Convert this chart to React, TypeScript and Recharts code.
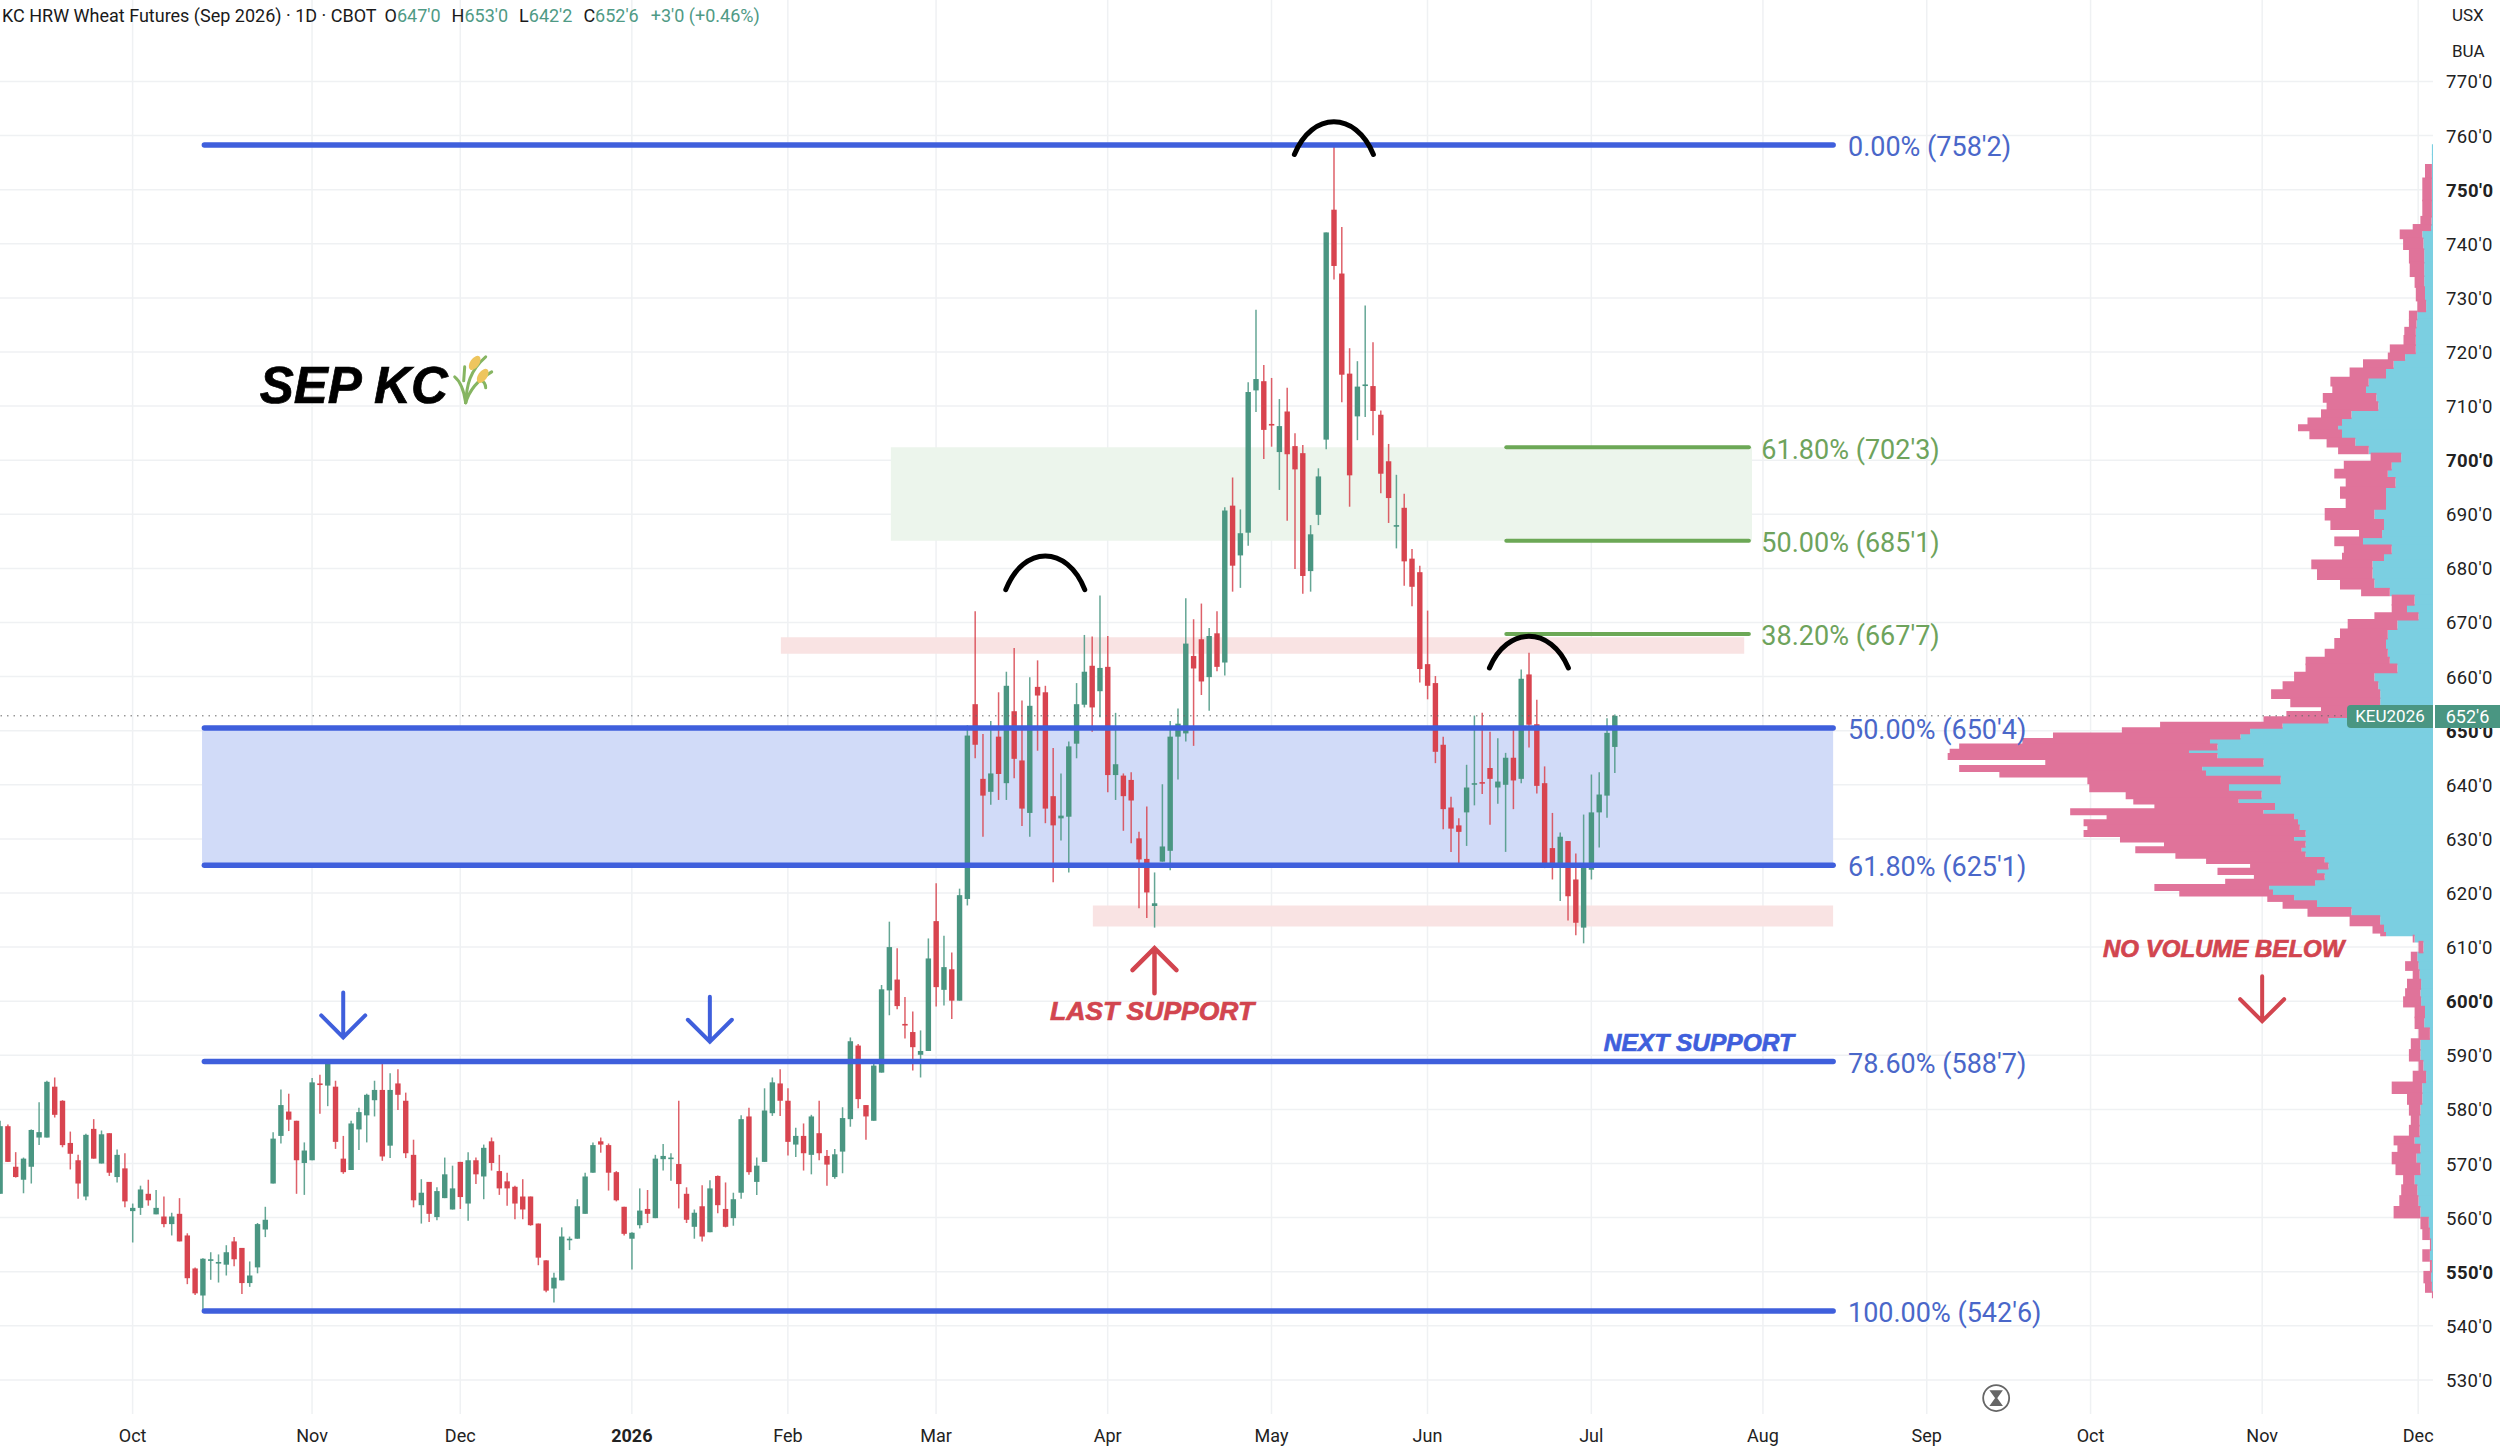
import React from "react";
import {
  ComposedChart, Bar, XAxis, YAxis, CartesianGrid,
  ReferenceLine, ReferenceArea, ReferenceDot,
} from "recharts";

const opens = [564.4,576.9,569.4,567,569.4,574.8,574.8,584.2,581.6,573.8,
570.6,563.9,576.4,570,575.6,567.5,569.1,561.2,561.8,564.4,
560.6,560.2,558.8,560.7,556.7,550.6,545.6,552,551.5,551.3,
555.6,554.4,547.9,550.8,557.8,566.3,575.1,579.6,577.9,570.1,
570.6,584.8,584.4,584.2,570.9,568.8,576.3,578.9,581.7,583.6,
573.3,584.8,581.6,571.6,562.3,566.6,560.1,563.6,561.5,570.3,
562.6,570.6,567.6,574.1,568.6,566.7,565.7,563.9,563.9,558.9,
552.1,546.9,548.4,555.9,556.1,560.7,568.3,574.1,573.4,568.4,
562,556.1,558.6,561.6,559.9,570.8,570.9,569.9,564.4,558.3,
562.1,557.3,567.7,561.6,559.9,564.6,578.7,566.6,570.3,579.3,
584.8,581.6,573.5,575.1,571.6,575.6,571.4,567.5,572.2,578.2,
591.8,580.8,577.9,586.8,602,604,595.8,594.3,590.1,590.8,
614.8,602.1,605.9,600.1,618.9,654.9,641.1,638.7,648.9,640.3,
653.6,644.5,634.8,658.1,657.1,637.9,633.8,634.1,647.6,654.8,
662,657.3,661.8,641.8,641.7,640.9,630.1,626.3,617.6,625.8,
627.8,648.9,649.5,663.8,666.9,659.9,668,662.6,691.6,682.4,
686.6,712.9,714.6,706.7,701.5,709,702.6,701.3,679.5,689.9,
703.8,746.3,734.5,716,708.1,713.8,713.7,708.4,699.8,687.8,
691.2,681.8,679.3,662.3,658.8,647.4,635.8,632.5,634.9,640.1,
640.5,643.1,639.5,640,645,641.1,660.4,651.2,640.3,628.3,
624.9,629.6,622.5,613.6,624.3,634.9,638,647];

const highs = [577.9,577.2,572.1,571.1,576.3,581.3,585.3,585.9,581.7,575.9,
571.6,575.5,578.2,576.1,575.6,572.6,571.9,562.6,565.9,567,
565.1,563.9,560.9,563.6,557.1,550.8,552.5,553.6,553.2,554.9,
556.4,554.4,551.9,559,562,575.8,583.7,582.9,577.9,573.9,
585.8,586.4,588.8,585.3,575.1,577.9,580.3,582.9,585.3,588.8,
586.7,587.4,583.1,574.4,567.1,566.6,565.6,571.1,569.6,570.3,
572.1,571.1,573.5,574.8,571.6,568.3,565.9,567.1,563.9,558.9,
552.1,549.8,558.2,556.5,563.4,568.3,573.9,574.8,573.7,568.6,
562,557.3,565.4,565.1,571.6,573.6,571.9,581.6,565.6,561.5,
566,566.9,567.8,566.5,564.6,578.9,580.3,571.1,583.9,585.9,
587.4,583.9,576.6,577.4,579,581.6,572.5,572.7,580.4,593.3,
592.1,580.8,588.8,603,614.7,609.8,600.8,598.1,594.6,611.6,
621.8,612.1,609,620.8,651,672.1,649.4,651.8,657.1,660.9,
665.3,655.6,659.9,663,658.3,646.8,642.1,648,658.8,667.7,
667.4,675,667.5,653.3,642.1,642.3,631.3,636,623.8,640.1,
651.8,654.1,674.5,670.6,673.5,669,672.1,691.3,696.8,690.9,
714.4,727.8,717.6,715.2,711.3,713.4,705,702.8,688,698.5,
742.1,758.2,743.1,720.7,718.3,728.6,721.8,709.2,703,697.3,
693.8,683.6,680.5,672.2,660.1,648.9,637.8,633.8,643.7,652.8,
653.3,649.8,648.6,645.9,650.3,661.3,664.4,655.7,643.4,634.8,
631.2,629.6,627.3,634.5,641.9,642.3,652.3,653];

const lows = [564.4,570.3,567.4,564.5,566.3,573.4,574.8,578.5,573,568.9,
563.5,563.2,570.9,570,567.7,566.5,561.9,555.4,560.5,562.2,
560.6,558.2,556.7,555.6,547.7,545.7,542.8,548.5,548,549.3,
551,545.9,547.2,549.7,556.4,566.3,573.7,576,564.4,564.2,
570.6,579.2,580.6,572.7,568.1,568.8,572.5,573.9,578.7,570.5,
571,579.9,571,561.9,558.9,559.2,559.5,563.6,561.5,561.6,
559.4,566.2,563.4,568.7,564.2,562.2,559.7,559.7,558.5,551.2,
546.2,544.3,548.4,554,556.1,560.7,568.3,572,565,563,
556.7,550.4,558,559,559.9,568.7,566.8,561.7,559,556.1,
555.6,557.3,560.8,558.2,558.5,563.5,567.9,564.2,570.3,578.8,
578.8,571.5,571.2,568.7,568,570.6,565.9,567.2,568.2,576.8,
580.2,574.4,577.9,586.8,597.4,598.5,593.1,587.2,585.9,590.8,
599,599.2,596.7,600.1,617.7,644.9,630.4,636.3,637.2,637.2,
641.2,632.4,630.4,646.3,632.9,622,629.7,623.8,644.9,654.3,
649.8,652.5,638.6,637.2,631.5,629.2,617.2,615.4,613.6,625.8,
624.2,641,648,647.2,656.6,653.7,661,660.2,675.7,676.4,
684.2,708.9,700.2,702.5,694.5,688.8,679.9,675.3,675.7,688,
702,733.4,710.7,691.4,703.7,708,704.6,693.9,688.4,683.7,
676.8,673,658.9,655.8,644,631.8,627.6,625.5,628.7,636.2,
638.3,632.6,636.5,627.6,635.5,640.3,646.9,638.4,624.6,622.5,
618.5,614.9,612.2,610.7,622.5,628.4,633.9,642.2];

const closes = [576.9,570.3,567.5,570.9,576.2,575.8,585.1,579,573.4,571.8,
566.3,575.3,570.9,575.4,568.3,571.6,563,561.8,565.2,563.2,
561.8,558.8,560.2,555.6,548.8,546,552.4,552.3,551.8,553.6,
552.3,547.9,549.3,558.8,559.6,574.6,580.8,578.1,570.6,572.4,
585,584.6,588.5,574,568.4,577.4,579.5,582.7,583.6,571.3,
583.6,582.7,571.9,563.2,564.6,560.7,564.9,568,565.4,563.8,
570.6,568,572.9,570.1,565.4,565.4,562.6,561.5,558.6,552.6,
546.5,548.9,556.5,556.1,562.1,567.6,573.4,573.5,568.3,563.2,
557,557.2,561.3,560.7,570.9,571.4,571.1,566.2,559.6,560.9,
556.5,565.4,562.3,558.3,563.4,578.2,568.4,569.6,579.8,585,
581.6,574,575.1,571.9,578.7,571.9,569.8,571.7,578.4,592.6,
581.9,578.7,588.1,602.2,610,599.1,595.6,591.5,590.8,607.9,
602.6,606.3,600.1,619.6,649.1,647.4,638,642.1,642,658.3,
644.8,635.6,654.6,656.5,635.6,632.5,634.3,647.1,654.9,660.9,
654.3,661.6,641.8,643.8,637.9,637.1,626.2,620.1,618.1,628.6,
648.9,651.3,666.1,661.5,659.1,667.5,661.8,690.7,680.5,686.5,
712.6,715,705.6,706.5,706.3,701.1,698.3,678.6,686.3,697,
742.1,735.9,715.8,697.2,713.6,714,709.1,697.5,693,688,
681.3,676.6,661.4,658.3,646.1,635.5,631.9,631.3,639.5,640.3,
640.3,641.1,640.6,645,640.8,659.6,651.1,639.8,625.2,625.3,
630.4,619.4,614.5,625.2,634.9,638.2,649.6,652.75];

const monthTicks = [17, 40, 59, 81, 101, 120, 142, 163, 183, 204, 226, 247, 268, 290, 310];
const monthLabels = ["Oct", "Nov", "Dec", "2026", "Feb", "Mar", "Apr", "May", "Jun", "Jul", "Aug", "Sep", "Oct", "Nov", "Dec"];
const priceTicks = [530,540,550,560,570,580,590,600,610,620,630,640,650,660,670,680,690,700,710,720,730,740,750,760,770];
const boldPrices = [550, 600, 650, 700, 750];

const profilePrices = [758,755,754.2,750,746,744,743,742,740,738,735,733,731,728,727,725,724,722,720.5,719,718,716,714.5,713,711.5,710,708.5,707,706,705,703,702,700.5,699,697.5,696,694,692,690,688,686.5,685,683.5,682,681,679,677,675.5,674.5,672,671.5,669.5,668,666,664,663,661.5,660,658,657,655,654,653,652,651,650,649,648,647,646,645.5,644,643,642,641,639.5,638,637,636,635,634,633,632,631,630,629,628,627,626,625,624,623,622,621,620,619,618,616.5,615,613,612.3,612,610,608,606.5,605,603,601.5,600,598,596,594,592,590,588,586,584,582,580,578,576,574,573,571,569,567,565,563,561,559,557,555,553,551,549,547,545.5];
const profileTotal = [1.1,1.1,8,10.7,10.7,12.6,20.3,33.3,29.9,24.1,23.3,18.4,17.2,15.7,24.1,24.1,28.7,29.5,43.2,45.2,70,83.4,102.6,100.7,110.2,106.4,112,125.5,135,123.6,106.4,94.9,62.4,89.2,98.7,87.3,93,87.3,108.3,102.6,73.9,98.7,89.2,91,121.7,116,93,71.9,41.3,41.3,58.6,85.3,93,98.7,108.3,127.4,127.4,138.9,150.4,161.9,142.7,112,146.6,169.5,272.9,311.1,380,410.6,473.8,483.3,485.3,387.7,473.8,433.6,345.6,343.7,307.3,299.7,278.6,362.8,326.4,349.4,345.6,349.4,313,269,297.7,257.6,226.9,182.9,215.5,179.1,207.8,278.6,253.7,165.7,150.4,125.5,83.4,60.5,52.8,20.3,14.5,22.2,27.9,20.3,26,27.9,29.9,18.4,18.4,14.5,22.2,24.1,14.5,20.3,41.3,26,24.1,22.2,24.1,39.4,35.6,41.3,37.5,29.9,31.8,33.7,39.4,12.6,10.7,3.1,10.7,3.1,9.6,8,1.1];
const profileUp = [1.1,1.1,1.1,1.1,1.1,1.5,1.9,10.7,9.6,8.8,8.8,8.8,8,6.9,15.7,16.5,17.2,17.2,17.2,27.9,39.4,47,64.3,67,56.6,54.7,81.5,91,94.9,91,77.7,64.3,31.8,41.3,45.2,37.5,47,47,58.6,49,50.9,70,41.3,49,60.5,60.5,58.6,43.2,18.4,26,14.5,35.6,45.2,47,45.2,43.2,35.6,58.6,54.7,52.8,52.8,52.8,70,104.5,150.4,182.9,192.5,223,215.5,244,215.5,169.5,230.8,227,152.3,204,171.4,194.4,158,169.5,138.9,135,133.2,127.4,138.9,127.4,131.3,127.4,108.3,104.5,116,108.3,117.9,163.8,160,138.9,116,81.5,52.8,49,47,18.4,9.6,15.7,14.5,13.4,11.9,12.6,11.9,8,8.8,3.1,12.6,12.6,9.6,6.9,10.7,10.7,12.6,13.4,13.4,18.4,12.6,16.5,12.6,18.4,15.7,14.5,12.6,4.2,3.1,1.9,3.1,1.1,1.9,1.1,0];

const retracements = [
  { price: 758.25, label: "0.00% (758'2)" },
  { price: 650.5, label: "50.00% (650'4)" },
  { price: 625.125, label: "61.80% (625'1)" },
  { price: 588.875, label: "78.60% (588'7)" },
  { price: 542.75, label: "100.00% (542'6)" },
];
const extensions = [
  { price: 702.375, label: "61.80% (702'3)" },
  { price: 685.125, label: "50.00% (685'1)" },
  { price: 667.875, label: "38.20% (667'7)" },
];
const headerParts = [
  { t: "KC HRW Wheat Futures (Sep 2026) · 1D · CBOT", c: "#1a1a1a", gap: 8 },
  { t: "O", c: "#1a1a1a", gap: 0 }, { t: "647'0", c: "#4f9a85", gap: 11 },
  { t: "H", c: "#1a1a1a", gap: 0 }, { t: "653'0", c: "#4f9a85", gap: 11 },
  { t: "L", c: "#1a1a1a", gap: 0 }, { t: "642'2", c: "#4f9a85", gap: 11 },
  { t: "C", c: "#1a1a1a", gap: 0 }, { t: "652'6", c: "#4f9a85", gap: 12 },
  { t: "+3'0 (+0.46%)", c: "#4f9a85", gap: 0 },
];

const rows = opens.map((o, i) => ({
  i, o, h: highs[i], l: lows[i], c: closes[i], range: [lows[i], highs[i]],
}));

const UP = "#4a9682";
const DOWN = "#d8444f";
const BLUE = "#3f5fdc";
const LABEL_BLUE = "#4a67c9";
const FIB_GREEN = "#6ca856";
const LABEL_GREEN = "#6ea35c";
const RED_TEXT = "#d2454f";
const PROFILE_PINK = "#e0739a";
const PROFILE_TEAL = "#7bcfe1";
const FONT = "Roboto, sans-serif";
const Y_DOMAIN: [number, number] = [523.7, 785.06];
const X_DOMAIN: [number, number] = [0, 311.9];
const LEVEL_START = 26.2;
const LEVEL_END = 235;
const FIB_START = 193.1;
const FIB_END = 224.2;
const BARS_PER_VOLUME = 1 / 7.8;
const BAND_OVERLAP = 0.15;

// Each profile row spans from the midpoint with the row above to the midpoint with the row below.
const profileBands = profilePrices.map((price, i) => {
  const above = i > 0 ? profilePrices[i - 1] : price + 0.5;
  const below = i < profilePrices.length - 1 ? profilePrices[i + 1] : price - 0.5;
  return {
    price,
    top: (price + above) / 2 + BAND_OVERLAP,
    bottom: (price + below) / 2 - BAND_OVERLAP,
    xUp: X_DOMAIN[1] - profileUp[i] * BARS_PER_VOLUME,
    xTotal: X_DOMAIN[1] - profileTotal[i] * BARS_PER_VOLUME,
  };
});

function Candle(props: any) {
  const { x, y, width, height, payload } = props;
  const { o, h, l, c } = payload;
  const cx = x + width / 2;
  const at = (p: number) => y + ((h - p) / (h - l || 1)) * height;
  const top = at(Math.max(o, c));
  const bot = at(Math.min(o, c));
  const col = c >= o ? UP : DOWN;
  return (
    <g>
      <line x1={cx} x2={cx} y1={y} y2={y + height} stroke={col} strokeWidth={1.5} strokeOpacity={0.85} />
      <rect x={cx - 2.7} y={top} width={5.4} height={Math.max(bot - top, 1.6)} fill={col} />
    </g>
  );
}

function XTick(props: any) {
  const { x, payload } = props;
  const k = monthTicks.indexOf(payload.value);
  const lab = monthLabels[k];
  return (
    <text x={x} y={1442} textAnchor="middle" fontFamily={FONT} fontSize={18}
      fontWeight={lab === "2026" ? 700 : 400} fill="#222">{lab}</text>
  );
}

function YTick(props: any) {
  const { y, payload } = props;
  const v = payload.value;
  return (
    <text x={2446} y={y + 7} fontFamily={FONT} fontSize={18.5}
      letterSpacing={0.4}
      fontWeight={boldPrices.includes(v) ? 700 : 400} fill="#222">{`${v}'0`}</text>
  );
}

const textShape = (s: string, fill: string, size: number, anchor: any = "start", extra: any = {}) => (p: any) => (
  <text x={p.cx} y={p.cy} dy={size * 0.36 + 1.5} textAnchor={anchor} fill={fill} fontSize={size} fontFamily={FONT} {...extra}>{s}</text>
);
const boldItalic = (col: string) => ({
  fontFamily: "'Liberation Sans', Arial, sans-serif", fontWeight: 700, fontStyle: "italic",
  stroke: col, strokeWidth: 0.7,
});

const arcShape = (hw: number, h: number) => (p: any) => (
  <path d={`M ${p.cx - hw} ${p.cy + h} C ${p.cx - hw * 0.55} ${p.cy - h * 0.32}, ${p.cx + hw * 0.55} ${p.cy - h * 0.32}, ${p.cx + hw} ${p.cy + h}`}
    fill="none" stroke="#000" strokeWidth={5} strokeLinecap="round" />
);
const arrowShape = (col: string, dir: 1 | -1, sw: number) => (p: any) => (
  <path d={`M ${p.cx} ${p.cy} L ${p.cx} ${p.cy - dir * 45} M ${p.cx - 22} ${p.cy - dir * 22} L ${p.cx} ${p.cy} L ${p.cx + 22} ${p.cy - dir * 22}`}
    fill="none" stroke={col} strokeWidth={sw} strokeLinecap="round" strokeLinejoin="miter" />
);
const hourglass = (p: any) => (
  <g fill="none" stroke="#666" strokeWidth={1.8}>
    <circle cx={p.cx} cy={p.cy} r={13} />
    <path d={`M ${p.cx - 5} ${p.cy - 7} H ${p.cx + 5} L ${p.cx - 5} ${p.cy + 7} H ${p.cx + 5} Z`} fill="#666" />
  </g>
);
const wheat = (p: any) => (
  <g>
    <title>🌾</title>
    <g fill="none" stroke="#86b562" strokeWidth={3} strokeLinecap="round">
      <path d={`M ${p.cx} ${p.cy} C ${p.cx - 2} ${p.cy - 14}, ${p.cx - 6} ${p.cy - 22}, ${p.cx - 11} ${p.cy - 26}`} />
      <path d={`M ${p.cx} ${p.cy} C ${p.cx + 1} ${p.cy - 18}, ${p.cx + 4} ${p.cy - 32}, ${p.cx + 20} ${p.cy - 46}`} />
      <path d={`M ${p.cx} ${p.cy} C ${p.cx + 4} ${p.cy - 14}, ${p.cx + 14} ${p.cy - 24}, ${p.cx + 26} ${p.cy - 31}`} />
      <path d={`M ${p.cx - 2} ${p.cy - 22} L ${p.cx - 1} ${p.cy - 36}`} />
      <path d={`M ${p.cx + 13} ${p.cy - 24} C ${p.cx + 18} ${p.cy - 22}, ${p.cx + 20} ${p.cy - 19}, ${p.cx + 20} ${p.cy - 15}`} />
    </g>
    <ellipse cx={p.cx + 9} cy={p.cy - 40} rx={4.5} ry={8} fill="#eec55d" transform={`rotate(35 ${p.cx + 9} ${p.cy - 40})`} />
    <ellipse cx={p.cx + 17} cy={p.cy - 27} rx={4.5} ry={8} fill="#eec55d" transform={`rotate(35 ${p.cx + 17} ${p.cy - 27})`} />
  </g>
);

export default function App() {
  return (
    <div style={{ position: "absolute", left: 0, top: 0, width: 2500, height: 1446, overflow: "hidden", background: "#fff" }}>
      <div style={{ position: "absolute", left: 0, top: 0 }}>
        <ComposedChart width={2500} height={1446} data={rows} margin={{ top: 0, right: 0, bottom: 0, left: 0 }}>
          <CartesianGrid stroke="#eff1f3" strokeWidth={1.5} verticalValues={monthTicks} horizontalValues={priceTicks} />
          <XAxis type="number" dataKey="i" domain={X_DOMAIN} ticks={monthTicks} interval={0} height={32}
            axisLine={false} tickLine={false} tick={<XTick />} allowDataOverflow />
          <YAxis type="number" orientation="right" domain={Y_DOMAIN} ticks={priceTicks} interval={0} width={67}
            axisLine={false} tickLine={false} tick={<YTick />} allowDataOverflow />

          {profileBands.map((b) => (
            <ReferenceArea key={`t${b.price}`} x1={b.xUp} x2={X_DOMAIN[1]} y1={b.bottom} y2={b.top}
              fill={PROFILE_TEAL} fillOpacity={1} stroke="none" />
          ))}
          {profileBands.map((b) => (
            <ReferenceArea key={`p${b.price}`} x1={b.xTotal} x2={b.xUp} y1={b.bottom} y2={b.top}
              fill={PROFILE_PINK} fillOpacity={1} stroke="none" />
          ))}

          <ReferenceArea x1={LEVEL_START - 0.3} x2={LEVEL_END} y1={625.125} y2={650.5} fill="#d1dbf8" fillOpacity={1} stroke="none" />
          <ReferenceArea x1={114.2} x2={FIB_END + 0.4} y1={685.125} y2={702.375} fill="#ecf5ec" fillOpacity={1} stroke="none" />
          <ReferenceArea x1={100.1} x2={223.6} y1={664.2} y2={667.25} fill="#f9e3e3" fillOpacity={1} stroke="none" />
          <ReferenceArea x1={140.1} x2={LEVEL_END} y1={613.8} y2={617.7} fill="#f9e3e3" fillOpacity={1} stroke="none" />

          <ReferenceLine y={652.75} stroke="#666" strokeWidth={1} strokeDasharray="1.5 5" />
          {retracements.map((r) => (
            <ReferenceLine key={r.label} segment={[{ x: LEVEL_START, y: r.price }, { x: LEVEL_END, y: r.price }]}
              stroke={BLUE} strokeWidth={5.5} strokeLinecap="round" />
          ))}
          {extensions.map((r) => (
            <ReferenceLine key={r.label} segment={[{ x: FIB_START, y: r.price }, { x: FIB_END, y: r.price }]}
              stroke={FIB_GREEN} strokeWidth={4} strokeLinecap="round" />
          ))}

          <Bar dataKey="range" barSize={6} shape={<Candle />} isAnimationActive={false} />

          {retracements.map((r) => (
            <ReferenceDot key={r.label} x={236.9} y={r.price} r={0} shape={textShape(r.label, LABEL_BLUE, 27)} />
          ))}
          {extensions.map((r) => (
            <ReferenceDot key={r.label} x={225.8} y={r.price} r={0} shape={textShape(r.label, LABEL_GREEN, 27)} />
          ))}

          <ReferenceDot x={134} y={682.35} r={0} shape={arcShape(39.5, 34)} />
          <ReferenceDot x={171} y={762.6} r={0} shape={arcShape(39.5, 33)} />
          <ReferenceDot x={196} y={667.5} r={0} shape={arcShape(39.5, 32)} />

          <ReferenceDot x={44} y={593.3} r={0} shape={arrowShape(BLUE, 1, 4)} />
          <ReferenceDot x={91} y={592.5} r={0} shape={arrowShape(BLUE, 1, 4)} />
          <ReferenceDot x={148} y={609.8} r={0} shape={arrowShape(RED_TEXT, -1, 4.5)} />
          <ReferenceDot x={290} y={596.3} r={0} shape={arrowShape(RED_TEXT, 1, 4)} />

          <ReferenceDot x={33.3} y={714.2} r={0} shape={textShape("SEP KC", "#000", 51, "start", boldItalic("#000"))} />
          <ReferenceDot x={59.7} y={710.6} r={0} shape={wheat} />
          <ReferenceDot x={147.7} y={598.6} r={0} shape={textShape("LAST SUPPORT", RED_TEXT, 26.5, "middle", boldItalic(RED_TEXT))} />
          <ReferenceDot x={205.6} y={592.7} r={0} shape={textShape("NEXT SUPPORT", BLUE, 24.5, "start", boldItalic(BLUE))} />
          <ReferenceDot x={269.6} y={610} r={0} shape={textShape("NO VOLUME BELOW", RED_TEXT, 24, "start", boldItalic(RED_TEXT))} />
          <ReferenceDot x={255.9} y={526.65} r={0} shape={hourglass} />
        </ComposedChart>
      </div>

      <div style={{ position: "absolute", left: 2, top: 5, fontFamily: FONT, fontSize: 18, whiteSpace: "nowrap", display: "flex" }}>
        {headerParts.map((p, i) => (
          <span key={i} style={{ color: p.c, marginRight: p.gap }}>{p.t}</span>
        ))}
      </div>
      <div style={{ position: "absolute", left: 2452, top: 5, fontFamily: FONT, fontSize: 17, color: "#222" }}>USX</div>
      <div style={{ position: "absolute", left: 2452, top: 41, fontFamily: FONT, fontSize: 17, color: "#222" }}>BUA</div>
      <div style={{ position: "absolute", left: 2347, top: 705, width: 86, height: 23, background: "#4a9682", borderRadius: "4px 0 0 4px",
        color: "#fff", fontFamily: FONT, fontSize: 17, lineHeight: "23px", textAlign: "center" }}>KEU2026</div>
      <div style={{ position: "absolute", left: 2435, top: 705, width: 65, height: 23, background: "#4a9682",
        color: "#fff", fontFamily: FONT, fontSize: 18, lineHeight: "23px", textAlign: "center" }}>652'6</div>
    </div>
  );
}
